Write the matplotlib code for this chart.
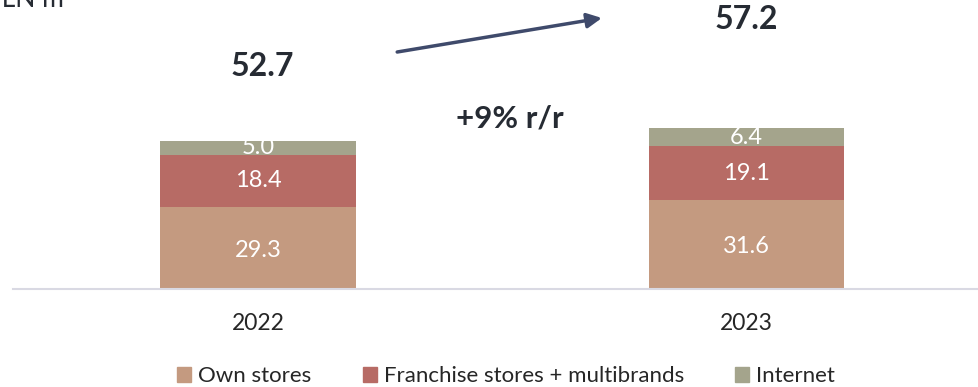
import numpy as np
import matplotlib.pyplot as plt
from matplotlib.patches import Patch

plt.rcParams['font.family'] = ['Lato', 'DejaVu Sans']

years = ["2022", "2023"]
own_stores = [29.3, 31.6]
franchise = [18.4, 19.1]
internet = [5.0, 6.4]
totals = [52.7, 57.2]
growth_label = "+9% r/r"

c_own = '#c49a80'
c_fr = '#b76b65'
c_net = '#a4a48c'
dark = '#262b33'

fig = plt.figure(figsize=(9.79, 3.87), dpi=100)
ax = fig.add_axes([13/979, 98/387, 966/979, 289/387])

x = np.arange(len(years))
w = 0.401
own = np.array(own_stores)
fr = np.array(franchise)
net = np.array(internet)

ax.bar(x, own, w, color=c_own, label="Own stores")
ax.bar(x, fr, w, bottom=own, color=c_fr, label="Franchise stores + multibrands")
ax.bar(x, net, w, bottom=own + fr, color=c_net, label="Internet")

for i in range(len(years)):
    ax.text(x[i], own[i] / 2 - 0.8, f"{own[i]:.1f}", ha='center', va='center', color='white', fontsize=17)
    ax.text(x[i], own[i] + fr[i] / 2, f"{fr[i]:.1f}", ha='center', va='center', color='white', fontsize=17)
    ax.text(x[i], own[i] + fr[i] + net[i] / 2, f"{net[i]:.1f}", ha='center', va='center', color='white', fontsize=17)

# totals above the bars
ax.text(x[0] + 0.008, 79.2, f"{totals[0]:.1f}", ha='center', va='center', fontsize=23, fontweight='bold', color=dark)
ax.text(x[1], 95.7, f"{totals[1]:.1f}", ha='center', va='center', fontsize=23, fontweight='bold', color=dark)
ax.text(0.515, 60.6, growth_label, ha='center', va='center', fontsize=22.5, fontweight='bold', color=dark)
ax.annotate("", xy=(0.704, 96.4), xytext=(0.285, 84.3),
            arrowprops=dict(arrowstyle='-|>', color='#3f4a6b', lw=2.5, mutation_scale=22, shrinkA=0, shrinkB=0),
            annotation_clip=False)

ax.set_xlim(-0.5015, 1.476)
ax.set_ylim(0, 102.8)
ax.set_xticks(x)
ax.set_xticklabels(years, fontsize=16.5, color='#262626')
ax.tick_params(axis='x', length=0, pad=17)
ax.set_yticks([])
for s in ['top', 'right', 'left']:
    ax.spines[s].set_visible(False)
ax.spines['bottom'].set_color('#d9d9e3')
ax.spines['bottom'].set_linewidth(1.5)

handles = [Patch(color=c_own), Patch(color=c_fr), Patch(color=c_net)]
fig.legend(handles, ["Own stores", "Franchise stores + multibrands", "Internet"],
           loc='center', bbox_to_anchor=(506/979, 1 - 376/387), ncol=3, frameon=False,
           fontsize=16, handlelength=0.65, handleheight=0.65, handletextpad=0.3, columnspacing=2.3,
           labelcolor='#262626')

fig.text(-0.014, 1 - 7/387, "PLN m", fontsize=19, color=dark, va='baseline', ha='left')

fig.savefig("out.png", dpi=100)
